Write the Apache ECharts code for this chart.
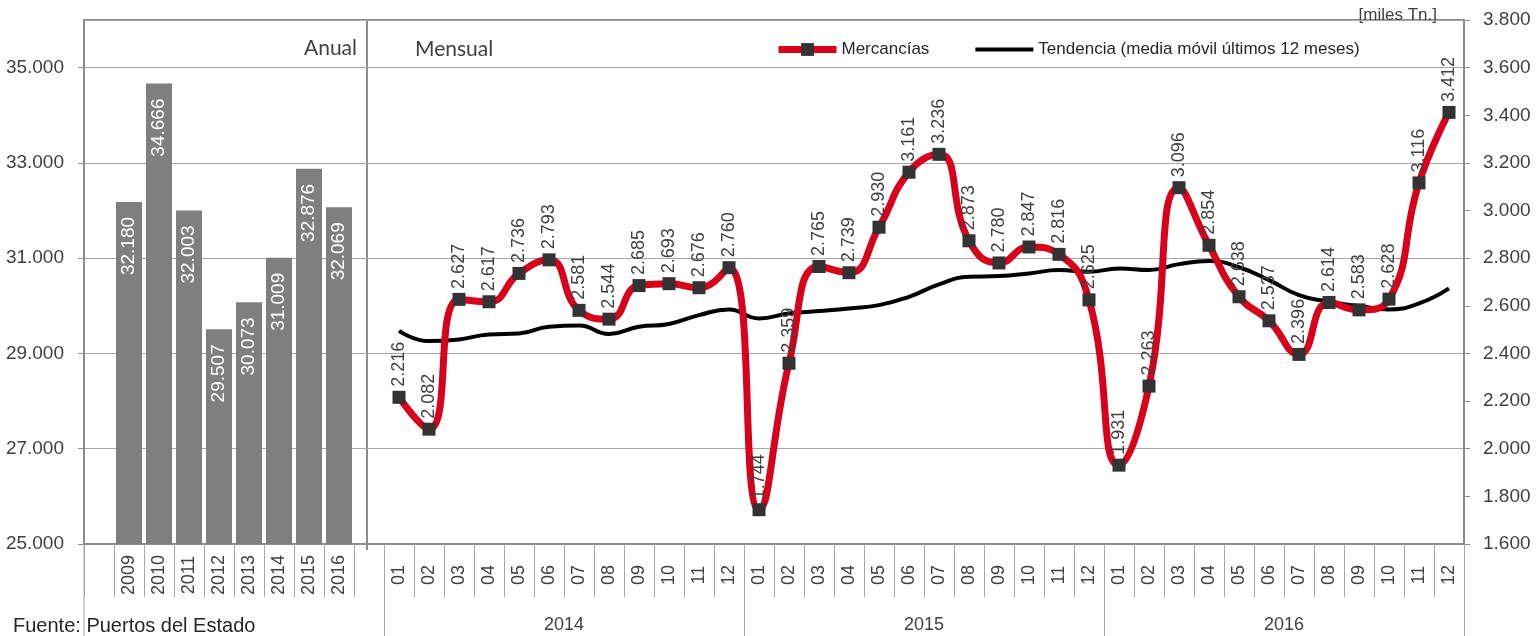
<!DOCTYPE html>
<html>
<head>
<meta charset="utf-8">
<script src="https://cdn.jsdelivr.net/npm/echarts@6/dist/echarts.min.js"></script>
<style>
  html, body { margin: 0; padding: 0; background: #fff; }
  #chart { width: 1539px; height: 636px; }
</style>
</head>
<body>
<div id="chart"></div>
<script>
// datos anuales (miles de toneladas)
var years = ['2009', '2010', '2011', '2012', '2013', '2014', '2015', '2016'];
var annual = [32180, 34666, 32003, 29507, 30073, 31009, 32876, 32069];

// datos mensuales
var months = ['01', '02', '03', '04', '05', '06', '07', '08', '09', '10', '11', '12'];
var periodYears = ['2014', '2015', '2016'];
var mercancias = [
    2216, 2082, 2627, 2617, 2736, 2793, 2581, 2544, 2685, 2693, 2676, 2760,
    1744, 2359, 2765, 2739, 2930, 3161, 3236, 2873, 2780, 2847, 2816, 2625,
    1931, 2263, 3096, 2854, 2638, 2537, 2396, 2614, 2583, 2628, 3116, 3412
];
var tendencia = [
    2495, 2452, 2459, 2480, 2484, 2512, 2517, 2482, 2512, 2524, 2561, 2585,
    2547, 2568, 2578, 2589, 2603, 2638, 2690, 2722, 2725, 2736, 2750, 2743,
    2757, 2750, 2775, 2788, 2762, 2708, 2645, 2617, 2599, 2585, 2610, 2673
];
var leftTicks = [25000, 27000, 29000, 31000, 33000, 35000];

var FONT = "'Liberation Sans Narrow', 'Arial Narrow', 'Liberation Sans', Arial, sans-serif";

function fmt(v) {
    return String(v).replace(/\B(?=(\d{3})+(?!\d))/g, '.');
}

// eje de categorías: hueco, años, hueco, meses de los tres años
var cats = [''].concat(years, ['']);
periodYears.forEach(function () { cats = cats.concat(months); });

var pad = function (n) { var a = []; for (var i = 0; i < n; i++) a.push('-'); return a; };
var barData = ['-'].concat(annual, pad(1 + mercancias.length));
var lineData = pad(years.length + 2).concat(mercancias);
var trendData = pad(years.length + 2).concat(tendencia);

var myChart = echarts.init(document.getElementById('chart'));
var option = {
    animation: false,
    textStyle: { fontFamily: FONT },
    grid: [
        { left: 84, right: 75, top: 20, bottom: 92 },
        { left: 384, right: 75, top: 20, bottom: 92 }
    ],
    legend: {
        left: 770,
        top: 36,
        itemWidth: 58,
        itemHeight: 16,
        itemGap: 44,
        textStyle: { fontSize: 17, color: '#262626', fontFamily: FONT },
        data: [
            { name: 'Mercancías', lineStyle: { width: 7, color: '#d9001b' }, itemStyle: { color: '#333333' } },
            { name: 'Tendencia (media móvil últimos 12 meses)', lineStyle: { width: 4, color: '#000' }, itemStyle: { opacity: 0 } }
        ]
    },
    xAxis: [
        {
            type: 'category',
            gridIndex: 0,
            data: cats,
            axisLine: { lineStyle: { color: '#8c8c8c', width: 2 } },
            axisTick: { show: true, interval: 0, length: 53, lineStyle: { color: '#a6a6a6' } },
            axisLabel: {
                interval: 0, rotate: 90, align: 'center', verticalAlign: 'middle',
                margin: 31, fontSize: 18, color: '#404040', fontFamily: FONT
            }
        },
        {
            type: 'category',
            gridIndex: 1,
            data: periodYears,
            axisLine: { show: false },
            axisTick: { show: true, interval: 0, length: 92, lineStyle: { color: '#a6a6a6' } },
            axisLabel: { margin: 72, fontSize: 18, color: '#404040', fontFamily: FONT }
        }
    ],
    yAxis: [
        {
            type: 'value',
            gridIndex: 0,
            position: 'left',
            min: 25000,
            max: 36000,
            axisLine: { show: true, lineStyle: { color: '#8c8c8c', width: 2 } },
            axisTick: { show: true, length: 6, customValues: leftTicks, lineStyle: { color: '#8c8c8c' } },
            axisLabel: { customValues: leftTicks, formatter: fmt, fontSize: 19, color: '#404040', margin: 20, fontFamily: FONT },
            splitLine: { show: false }
        },
        {
            type: 'value',
            gridIndex: 0,
            position: 'right',
            min: 1600,
            max: 3800,
            interval: 200,
            axisLine: { show: true, lineStyle: { color: '#8c8c8c', width: 2 } },
            axisTick: { show: true, length: 6, lineStyle: { color: '#8c8c8c' } },
            axisLabel: { formatter: fmt, fontSize: 19, color: '#404040', margin: 19, fontFamily: FONT },
            splitLine: { show: false }
        },
        {
            // solo para las líneas de división
            type: 'value',
            gridIndex: 0,
            position: 'left',
            min: 1600,
            max: 3800,
            interval: 400,
            axisLine: { show: false },
            axisTick: { show: false },
            axisLabel: { show: false },
            splitLine: { show: true, lineStyle: { color: '#a6a6a6', width: 1 } }
        },
        { type: 'value', gridIndex: 1, show: false }
    ],
    series: [
        {
            name: 'Anual',
            type: 'bar',
            xAxisIndex: 0,
            yAxisIndex: 0,
            data: barData,
            barWidth: 26,
            itemStyle: { color: '#7f7f7f' },
            label: {
                show: true, position: 'insideTop', rotate: 90, align: 'right', verticalAlign: 'middle',
                distance: 15, color: '#fff', fontSize: 19, fontFamily: FONT,
                formatter: function (p) { return fmt(p.value); }
            }
        },
        {
            name: 'Mercancías',
            type: 'line',
            xAxisIndex: 0,
            yAxisIndex: 1,
            data: lineData,
            smooth: 0.5,
            symbol: 'rect',
            symbolSize: 13,
            itemStyle: { color: '#333333' },
            lineStyle: { color: '#d9001b', width: 7 },
            label: {
                show: true, position: 'top', rotate: 90, align: 'left', verticalAlign: 'middle',
                distance: 4, color: '#404040', fontSize: 18, fontFamily: FONT,
                formatter: function (p) { return fmt(p.value); }
            },
            z: 3
        },
        {
            name: 'Tendencia (media móvil últimos 12 meses)',
            type: 'line',
            xAxisIndex: 0,
            yAxisIndex: 1,
            data: trendData,
            smooth: 0.5,
            symbol: 'none',
            itemStyle: { color: '#000' },
            lineStyle: { color: '#000', width: 4 },
            z: 2
        }
    ],
    graphic: [
        { type: 'line', shape: { x1: 84, y1: 20, x2: 1464, y2: 20 }, style: { stroke: '#8c8c8c', lineWidth: 2 } },
        { type: 'line', shape: { x1: 367, y1: 20, x2: 367, y2: 550 }, style: { stroke: '#8c8c8c', lineWidth: 2 } },
        { type: 'line', shape: { x1: 84, y1: 544, x2: 84, y2: 636 }, style: { stroke: '#a6a6a6', lineWidth: 1 } },
        { type: 'text', x: 357, y: 48, style: { text: 'Anual', font: '21px Lato, sans-serif', fill: '#404040', align: 'right', verticalAlign: 'middle' } },
        { type: 'text', x: 415, y: 49, style: { text: 'Mensual', font: '21px Lato, sans-serif', fill: '#404040', align: 'left', verticalAlign: 'middle' } },
        { type: 'text', x: 1437, y: 15, style: { text: '[miles Tn.]', font: '17px ' + FONT, fill: '#404040', align: 'right', verticalAlign: 'middle' } },
        { type: 'text', x: 13, y: 626, style: { text: 'Fuente: Puertos del Estado', font: '20px "Liberation Sans", Arial, sans-serif', fill: '#262626', align: 'left', verticalAlign: 'middle' } }
    ]
};

myChart.setOption(option);
</script>
</body>
</html>
